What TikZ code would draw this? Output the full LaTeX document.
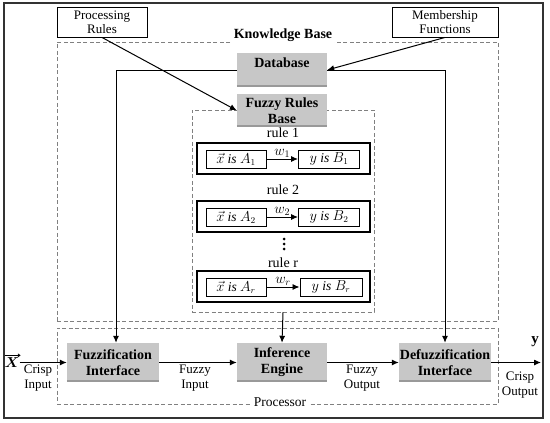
\documentclass[tikz,border=0pt]{standalone}
\usepackage{amsmath}
\usepackage{fontspec}
\setmainfont{Liberation Serif}
\usetikzlibrary{arrows.meta}
\begin{document}
\begin{tikzpicture}[x=1pt,y=-1pt,
  arr/.style={-{Latex[length=7pt,width=6pt]},line width=1pt},
  dashbox/.style={draw=gray,dashed,line width=0.8pt,dash pattern=on 4pt off 2.5pt,inner sep=0pt},
  plainbox/.style={draw,line width=0.9pt,inner sep=0pt,align=center,font=\fontsize{13}{14}\selectfont},
  graybox/.style={fill=black!22,inner sep=0pt,align=center,font=\fontsize{14}{16}\selectfont\bfseries},
  rulebox/.style={draw,line width=1.6pt,inner sep=0pt,minimum width=173pt,minimum height=31pt},
  inbox/.style={draw,line width=1pt,inner sep=0pt,minimum height=18pt,font=\fontsize{13.5}{14}\selectfont\itshape},
  lbl/.style={inner sep=1pt,align=center,font=\fontsize{13}{14.5}\selectfont},
  rlbl/.style={inner sep=0pt,font=\fontsize{14}{15}\selectfont},
  wlbl/.style={above,inner sep=1pt,font=\fontsize{14}{15}\selectfont}
]
\useasboundingbox (0,0) rectangle (550,423);
\draw[line width=1.1pt,black!80] (4,3) rectangle (543,418);

% dashed regions
\node[dashbox,minimum width=441pt,minimum height=279pt] (kb) at (277.5,181.5) {};
\node[dashbox,minimum width=441pt,minimum height=76pt] (pr) at (277.5,366) {};
\node[dashbox,minimum width=182pt,minimum height=202pt] (rb) at (283,211) {};
\node[fill=white,inner sep=2pt,font=\fontsize{14}{16}\selectfont\bfseries] (kbl) at (283,35) {Knowledge Base};
\node[fill=white,inner sep=2pt,font=\fontsize{13.5}{15}\selectfont] (prl) at (280,402) {Processor};

% top input boxes
\node[plainbox,minimum width=90pt,minimum height=30pt] (proc) at (102,22) {Processing\\Rules};
\node[plainbox,minimum width=106pt,minimum height=30pt] (mem) at (445,22) {Membership\\Functions};

% gray boxes
\node[graybox,minimum width=90pt,minimum height=34pt] (db) at (282,70) {Database\\[-2pt]\mbox{}};
\node[graybox,minimum width=90pt,minimum height=33pt] (frb) at (282,110.5) {Fuzzy Rules\\Base};
\node[graybox,minimum width=92pt,minimum height=39pt] (fz) at (113,362.5) {Fuzzification\\Interface};
\node[graybox,minimum width=90pt,minimum height=39pt] (ie) at (282,362.5) {Inference\\Engine};
\node[graybox,minimum width=92pt,minimum height=39pt] (dz) at (445,362.5) {Defuzzification\\Interface};
\foreach \n in {db,frb,fz,ie,dz}{
  \draw[black!40,line width=2pt] ([yshift=1pt]\n.south west) -- ([yshift=1pt]\n.south east);
}

% rules
\node[rlbl] (r1l) at (283,133) {rule 1};
\node[rulebox] (r1) at (283.5,158.5) {};
\node[inbox,minimum width=60pt] (r1a) at (236,159) {$\vec{x}$ is $A_1$};
\node[inbox,minimum width=61pt] (r1b) at (329,159) {$y$ is $B_1$};
\draw[arr,line width=0.9pt] (r1a) -- node[wlbl] (w1) {$w_1$} (r1b);

\node[rlbl] (r2l) at (283,190) {rule 2};
\node[rulebox] (r2) at (283.5,216.5) {};
\node[inbox,minimum width=60pt] (r2a) at (236,217) {$\vec{x}$ is $A_2$};
\node[inbox,minimum width=61pt] (r2b) at (329,217) {$y$ is $B_2$};
\draw[arr,line width=0.9pt] (r2a) -- node[wlbl] (w2) {$w_2$} (r2b);

\coordinate (dots) at (284,244);
\foreach \dy in {-5,0,5}{\fill ([yshift=-\dy pt]dots) circle (1.5pt);}

\node[rlbl] (rrl) at (283,263) {rule r};
\node[rulebox] (rr) at (283.5,286.5) {};
\node[inbox,minimum width=60pt] (rra) at (236,287) {$\vec{x}$ is $A_r$};
\node[inbox,minimum width=62pt] (rrb) at (331,287) {$y$ is $B_r$};
\draw[arr,line width=0.9pt] (rra) -- node[wlbl] (wr) {$w_r$} (rrb);

% connectors
\draw[arr] (proc.south) -- (frb.west);
\draw[arr] (mem.south) -- (db.east);
\draw[arr] (db.west) -| ([xshift=3pt]fz.north);
\draw[arr] (db.east) -| (dz.north);
\draw[arr] (rb.south) -- (ie.north);

\node[inner sep=0pt,font=\fontsize{15}{15}\selectfont] (xin) at (12,363) {$\boldsymbol{X}$};
\draw[line width=0.8pt,-{Straight Barb[length=2pt,width=3pt]}] ([yshift=2.5pt,xshift=1pt]xin.north west) -- ([yshift=2.5pt,xshift=1pt]xin.north east);
\draw[arr] (xin.east |- fz.west) -- (fz.west);
\node[lbl] (cin) at (38,378) {Crisp\\Input};
\draw[arr] (fz.east) -- (ie.west);
\node[lbl] (fin) at (195,378) {Fuzzy\\Input};
\draw[arr] (ie.east) -- (dz.west);
\node[lbl] (fout) at (362,378) {Fuzzy\\Output};
\coordinate (yout) at (541,362.5);
\draw[arr] (dz.east) -- (yout);
\node[inner sep=0pt,font=\fontsize{15}{15}\selectfont\bfseries] (ylab) at (535,342) {y};
\node[lbl] (cout) at (520,385) {Crisp\\Output};
\end{tikzpicture}
\end{document}
